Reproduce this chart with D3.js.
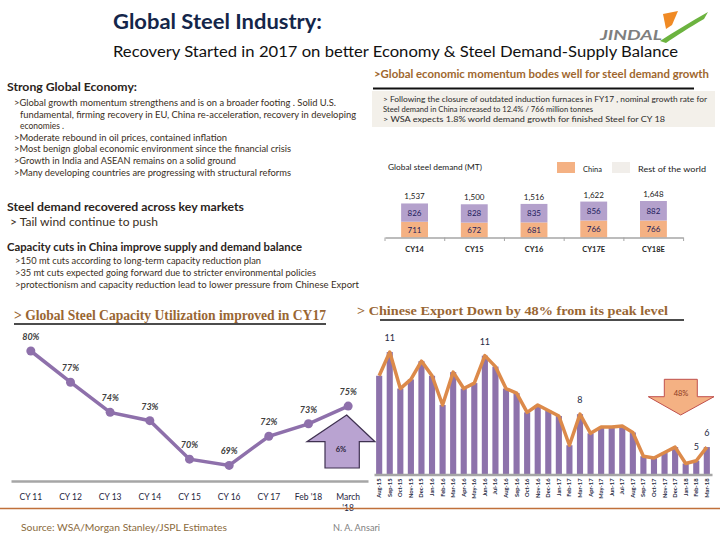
<!DOCTYPE html>
<html>
<head>
<meta charset="utf-8">
<script src="https://cdn.jsdelivr.net/npm/d3@7"></script>
<style>
  body { margin: 0; background: #fff; }
  svg { display: block; font-family: Lato, "Open Sans", sans-serif; }
</style>
</head>
<body>
<svg id="container" width="720" height="540"></svg>
<script>
// global steel demand (MT), stacked
const demandYears = ["CY14", "CY15", "CY16", "CY17E", "CY18E"];
const demandChina = [711, 672, 681, 766, 766];
const demandRest = [826, 828, 835, 856, 882];

// capacity utilisation (%)
const utilLabels = ["CY 11", "CY 12", "CY 13", "CY 14", "CY 15", "CY 16", "CY 17", "Feb '18", "March '18"];
const utilValues = [80.0, 77.0, 74.1, 73.3, 69.6, 69.0, 71.8, 73.0, 74.7];

// chinese steel exports (mt per month)
const exportMonths = ["Aug-15", "Sep-15", "Oct-15", "Nov-15", "Dec-15", "Jan-16", "Feb-16", "Mar-16",
  "Apr-16", "May-16", "Jun-16", "Jul-16", "Aug-16", "Sep-16", "Oct-16", "Nov-16", "Dec-16", "Jan-17",
  "Feb-17", "Mar-17", "Apr-17", "May-17", "Jun-17", "Jul-17", "Aug-17", "Sep-17", "Oct-17", "Nov-17",
  "Dec-17", "Jan-18", "Feb-18", "Mar-18"];
const exportValues = [9.7, 11.0, 9.0, 9.5, 10.5, 9.7, 8.1, 9.9, 9.0, 9.3, 10.8, 10.2, 9.0, 8.75, 7.7, 8.1,
  7.8, 7.5, 5.9, 7.6, 6.55, 6.9, 6.9, 6.95, 6.6, 5.3, 5.2, 5.5, 5.8, 4.9, 5.05, 5.8];
const exportLabelled = ["Sep-15", "Jun-16", "Mar-17", "Feb-18", "Mar-18"];

const economyNotes = [
  ">Global growth momentum strengthens and is on a broader footing . Solid U.S.",
  "fundamental, firming recovery in EU, China re-acceleration, recovery in developing",
  "economies .",
  ">Moderate rebound in oil prices, contained inflation",
  ">Most benign global economic environment since the financial crisis",
  ">Growth in India and ASEAN remains on a solid ground",
  ">Many developing countries are progressing with structural reforms"
];
const chinaNotes = [
  ">150 mt cuts according to long-term capacity reduction plan",
  ">35 mt cuts expected going forward due to stricter environmental policies",
  ">protectionism and capacity reduction lead to lower pressure from Chinese Export"
];
const boxNotes = [
  "> Following the closure of outdated induction furnaces in FY17 , nominal growth rate for",
  "Steel demand in China increased to 12.4% / 766 million tonnes",
  "> WSA expects 1.8% world demand growth for finished Steel for CY 18"
];

const main = function() {
  var svg = d3.select('#container');

  // small helper for one line of text, optionally squeezed to a width
  var text = function(x, y, s, size, opts) {
    opts = opts || {};
    var t = svg.append("text")
      .attr("x", x)
      .attr("y", y)
      .attr("font-size", size)
      .attr("fill", opts.fill || "#3a2e22")
      .attr("font-weight", opts.weight || "normal")
      .attr("font-style", opts.style || "normal")
      .attr("text-anchor", opts.anchor || "start")
      .text(s);
    if (opts.family) t.attr("font-family", opts.family);
    if (opts.width) t.attr("textLength", opts.width).attr("lengthAdjust", "spacingAndGlyphs");
    return t;
  };

  svg.append("rect").attr("width", 720).attr("height", 540).attr("fill", "#fff");

  // ---- header
  text(113, 29, "Global Steel Industry:", 20, {weight: "bold", fill: "#14264a", width: 209});
  text(113, 57, "Recovery Started in 2017 on better Economy & Steel Demand-Supply Balance", 15.5,
    {fill: "#111", width: 565});

  // logo
  svg.append("path")
    .attr("d", "M660,41 C674,32 690,22 708,12 L704,19 C690,27 676,36 666,43 Z")
    .attr("fill", "#6cb33f");
  svg.append("path")
    .attr("d", "M663,14 L678,11 L672,25 L666,29 Z")
    .attr("fill", "#f08a24");
  text(600, 40, "JINDAL", 14, {weight: "bold", style: "italic", fill: "#7f7f7f", width: 62});

  // ---- left text column
  text(7, 91, "Strong Global Economy:", 11.5, {weight: "bold", fill: "#2b241c", width: 130});
  var econX = [14, 20, 20, 14, 14, 14, 14];
  var econW = [322, 336, 44, 213, 277, 222, 277];
  economyNotes.forEach(function(s, i) {
    text(econX[i], 106 + i * 11.6, s, 9, {width: econW[i]});
  });

  text(7, 211, "Steel demand recovered across key markets", 11.5, {weight: "bold", fill: "#2b241c", width: 237});
  text(10, 226, "> Tail wind continue to push", 11.5, {width: 148});
  text(7, 251, "Capacity cuts in China improve supply and demand balance", 11, {weight: "bold", fill: "#2b241c", width: 295});
  var chinaW = [246, 301, 344];
  chinaNotes.forEach(function(s, i) {
    text(15, 264 + i * 12, s, 8.5, {width: chinaW[i]});
  });

  // ---- right top: heading + box
  text(374, 78, ">Global economic momentum bodes well for steel demand growth", 10.5,
    {weight: "bold", fill: "#a0672e", width: 335});
  svg.append("line")
    .attr("x1", 373).attr("x2", 694).attr("y1", 88.5).attr("y2", 88.5)
    .attr("stroke", "#111").attr("stroke-width", 2);
  svg.append("rect")
    .attr("x", 372).attr("y", 91).attr("width", 343).attr("height", 36)
    .attr("fill", "#f3f0ea");
  var boxW = [324, 210, 282];
  boxNotes.forEach(function(s, i) {
    text(383, 102 + i * 10, s, 7.5, {fill: "#2b2b2b", width: boxW[i]});
  });

  // ---- stacked demand chart
  text(388, 170, "Global steel demand (MT)", 7.5, {fill: "#222", width: 94});
  svg.append("rect").attr("x", 557).attr("y", 162).attr("width", 18).attr("height", 11).attr("fill", "#f4b183");
  text(583, 172, "China", 7.5, {fill: "#222"});
  svg.append("rect").attr("x", 612).attr("y", 162).attr("width", 18).attr("height", 11).attr("fill", "#f1eeea");
  text(638, 172, "Rest of the world", 7.5, {fill: "#222", width: 68});

  var demandX = d3.scaleBand().domain(demandYears).range([385, 683]).paddingInner(0.55).paddingOuter(0.27);
  var demandY = d3.scaleLinear().domain([0, 1648]).range([237.5, 201]);

  var dg = svg.append("g");
  demandYears.forEach(function(yr, i) {
    var x0 = demandX(yr), w = demandX.bandwidth();
    var c = demandChina[i], r = demandRest[i];
    dg.append("rect")
      .attr("x", x0).attr("width", w)
      .attr("y", demandY(c)).attr("height", demandY(0) - demandY(c))
      .attr("fill", "#f4b183");
    dg.append("rect")
      .attr("x", x0).attr("width", w)
      .attr("y", demandY(c + r)).attr("height", demandY(c) - demandY(c + r))
      .attr("fill", "#b4a1cc");
    var cx = x0 + w / 2;
    text(cx, (demandY(0) + demandY(c)) / 2 + 3, c, 8, {anchor: "middle", fill: "#1c1c5c"});
    text(cx, (demandY(c) + demandY(c + r)) / 2 + 3, r, 8, {anchor: "middle", fill: "#1c1c5c"});
    text(cx, demandY(c + r) - 4, d3.format(",")(c + r), 8, {anchor: "middle", fill: "#222"});
  });

  var dAxis = svg.append("g")
    .attr("transform", "translate(0,237.5)")
    .call(d3.axisBottom(demandX).tickSize(0).tickPadding(9));
  dAxis.select(".domain").attr("stroke", "#a6a6a6").attr("stroke-width", 1.5);
  dAxis.selectAll("text").attr("font-size", 7.5).attr("font-weight", "bold").attr("fill", "#262626")
    .attr("font-family", "Lato, sans-serif");
  d3.range(demandYears.length + 1).forEach(function(i) {
    var bx = 385 + i * demandX.step();
    svg.append("line")
      .attr("x1", bx).attr("x2", bx).attr("y1", 237.5).attr("y2", 241)
      .attr("stroke", "#a6a6a6").attr("stroke-width", 1);
  });

  // ---- capacity utilisation line chart
  text(14, 320, "> Global Steel Capacity Utilization  improved in CY17", 14,
    {weight: "bold", fill: "#996633", family: "'Liberation Serif', serif", width: 312});
  svg.append("line")
    .attr("x1", 14).attr("x2", 326).attr("y1", 324).attr("y2", 324)
    .attr("stroke", "#111").attr("stroke-width", 1.5);

  var utilX = d3.scaleBand().domain(utilLabels).range([11, 368]);
  var utilY = d3.scaleLinear().domain([67.5, 80]).range([481, 351]);
  var ux = function(d) { return utilX(d) + utilX.bandwidth() / 2; };

  var uAxis = svg.append("g")
    .attr("transform", "translate(0,481)")
    .call(d3.axisBottom(utilX).tickSize(0).tickPadding(13));
  uAxis.select(".domain").attr("stroke", "#a6a6a6").attr("stroke-width", 2.5);
  uAxis.selectAll("text")
    .attr("font-size", 8.5).attr("fill", "#1f2540").attr("font-family", "Lato, sans-serif")
    .each(function(d) {
      if (d.indexOf("March") === 0) {
        var t = d3.select(this).text(null);
        t.append("tspan").attr("x", 0).text("March");
        t.append("tspan").attr("x", 0).attr("dy", "1.3em").text("'18");
      }
    });

  var utilPts = utilLabels.map(function(l, i) { return [ux(l), utilY(utilValues[i])]; });
  svg.append("path")
    .attr("d", d3.line()(utilPts))
    .attr("fill", "none")
    .attr("stroke", "#8e70ab")
    .attr("stroke-width", 3.5);
  svg.selectAll(".upt")
    .data(utilPts)
    .enter().append("circle")
    .attr("class", "upt")
    .attr("cx", function(d) { return d[0]; })
    .attr("cy", function(d) { return d[1]; })
    .attr("r", 4.5)
    .attr("fill", "#8e70ab");
  utilPts.forEach(function(p, i) {
    text(p[0], p[1] - 11, d3.format(".0f")(utilValues[i]) + "%", 9,
      {anchor: "middle", weight: "bold", style: "italic", fill: "#404040"});
  });

  // up arrow
  var upLast = utilPts[utilPts.length - 1];
  svg.append("path")
    .attr("d", "M" + (upLast[0] - 1.5) + ",415 L375,441.7 L359.3,441.7 L359.3,468 L325,468 L325,441.7 L307,441.7 Z")
    .attr("fill", "#b9a3d1")
    .attr("stroke", "#3f3151")
    .attr("stroke-width", 1.2);
  text(341, 452, "6%", 7.5, {anchor: "middle", weight: "bold", fill: "#2a1f3a"});

  // ---- chinese export chart
  text(357, 315, "> Chinese Export Down by 48% from its peak level", 13.5,
    {weight: "bold", fill: "#996633", family: "'Liberation Serif', serif", width: 311});
  svg.append("line")
    .attr("x1", 380).attr("x2", 684).attr("y1", 320).attr("y2", 320)
    .attr("stroke", "#111").attr("stroke-width", 1.5);

  var exportX = d3.scaleBand().domain(exportMonths).range([374, 712]).paddingInner(0.42).paddingOuter(0.2);
  var exportY = d3.scaleLinear().domain([4.3, 11]).range([474.5, 352]);
  var ex = function(m) { return exportX(m) + exportX.bandwidth() / 2; };

  svg.selectAll(".ebar")
    .data(exportMonths)
    .enter().append("rect")
    .attr("class", "ebar")
    .attr("x", function(m) { return exportX(m); })
    .attr("width", exportX.bandwidth())
    .attr("y", function(m, i) { return exportY(exportValues[i]); })
    .attr("height", function(m, i) { return exportY(4.3) - exportY(exportValues[i]); })
    .attr("fill", "#8d72ab");

  svg.append("path")
    .attr("d", d3.line()(exportMonths.map(function(m, i) { return [ex(m), exportY(exportValues[i])]; })))
    .attr("fill", "none")
    .attr("stroke", "#dc8a4a")
    .attr("stroke-width", 3.5)
    .attr("stroke-linejoin", "round");

  exportMonths.forEach(function(m, i) {
    if (exportLabelled.indexOf(m) >= 0) {
      text(ex(m), exportY(exportValues[i]) - 11, d3.format(".0f")(exportValues[i]), 9,
        {anchor: "middle", fill: "#1f2a44"});
    }
  });

  var eAxis = svg.append("g")
    .attr("transform", "translate(0,474.5)")
    .call(d3.axisBottom(exportX).tickSize(0));
  eAxis.select(".domain").attr("stroke", "#a6a6a6").attr("stroke-width", 2.5);
  eAxis.selectAll("text")
    .attr("transform", "rotate(-90)")
    .attr("x", -4)
    .attr("y", 0)
    .attr("dy", "0.35em")
    .style("text-anchor", "end")
    .attr("font-size", 5.8)
    .attr("font-weight", "bold")
    .attr("fill", "#1f2a44")
    .attr("font-family", "Lato, sans-serif");

  // down arrow
  svg.append("path")
    .attr("d", "M664.3,379.3 L697.3,379.3 L697.3,396.7 L714,396.7 L680.7,415 L648.3,396.7 L664.3,396.7 Z")
    .attr("fill", "#f4b183")
    .attr("stroke", "#c0504d")
    .attr("stroke-width", 1);
  text(681, 396, "48%", 7.5, {anchor: "middle", fill: "#8b3a1f"});

  // ---- footer
  svg.append("line")
    .attr("x1", 0).attr("x2", 720).attr("y1", 508.5).attr("y2", 508.5)
    .attr("stroke", "#c0703a").attr("stroke-width", 1.5);
  text(21, 531, "Source: WSA/Morgan Stanley/JSPL Estimates", 10, {fill: "#8a6a3c", width: 206});
  text(333, 531, "N. A. Ansari", 10, {fill: "#808080", width: 47});
};

main();
</script>
</body>
</html>
